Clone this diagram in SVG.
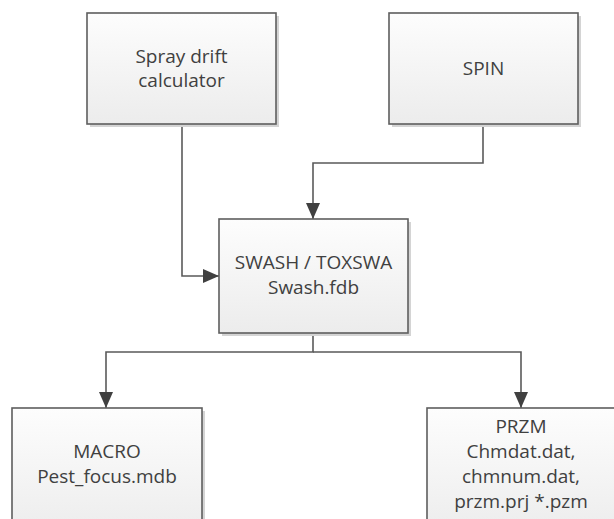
<svg xmlns="http://www.w3.org/2000/svg" width="614" height="519" viewBox="0 0 614 519">
<style>
.box{fill:url(#g);stroke:#5e5e5e;stroke-width:1.6}
.sh{fill:#d4d4d4}
.t{font-family:"Open Sans","Noto Sans",sans-serif;font-size:19px;fill:#404040;text-anchor:middle}
.c{fill:none;stroke:#5a5a5a;stroke-width:1.6}
</style>
<defs>
<linearGradient id="g" x1="0" y1="0" x2="0" y2="1">
<stop offset="0" stop-color="#fdfdfd"/>
<stop offset="1" stop-color="#ececec"/>
</linearGradient>
<marker id="a" viewBox="0 0 16 14" refX="16" refY="7" markerWidth="16" markerHeight="14" markerUnits="userSpaceOnUse" orient="auto">
<path d="M0,0 L16,7 L0,14 Z" fill="#404040"/>
</marker>
</defs>
<g id="connectors">
<path class="c" d="M182,124 V276 H219" marker-end="url(#a)"/>
<path class="c" d="M483,124 V163 H313 V219" marker-end="url(#a)"/>
<path class="c" d="M313,333 V352 H106 V408" marker-end="url(#a)"/>
<path class="c" d="M313,352 H521 V408" marker-end="url(#a)"/>
</g>
<g id="spray">
<rect class="sh" x="90" y="16" width="189" height="111"/>
<rect class="box" x="87" y="13" width="189" height="111"/>
<text class="t" x="181.5" y="63">Spray drift</text>
<text class="t" x="181.5" y="87">calculator</text>
</g>
<g id="spin">
<rect class="sh" x="392" y="16" width="189" height="111"/>
<rect class="box" x="389" y="13" width="189" height="111"/>
<text class="t" x="483.5" y="75">SPIN</text>
</g>
<g id="swash">
<rect class="sh" x="222" y="222" width="189" height="114"/>
<rect class="box" x="219" y="219" width="189" height="114"/>
<text class="t" x="313.5" y="269">SWASH / TOXSWA</text>
<text class="t" x="313.5" y="294">Swash.fdb</text>
</g>
<g id="macro">
<rect class="sh" x="15" y="411" width="190" height="130"/>
<rect class="box" x="12" y="408" width="190" height="130"/>
<text class="t" x="107" y="458">MACRO</text>
<text class="t" x="107" y="483">Pest_focus.mdb</text>
</g>
<g id="przm">
<rect class="sh" x="430" y="411" width="190" height="130"/>
<rect class="box" x="427" y="408" width="190" height="130"/>
<text class="t" x="521" y="433">PRZM</text>
<text class="t" x="521" y="458">Chmdat.dat,</text>
<text class="t" x="521" y="483">chmnum.dat,</text>
<text class="t" x="521" y="508">przm.prj *.pzm</text>
</g>
</svg>
